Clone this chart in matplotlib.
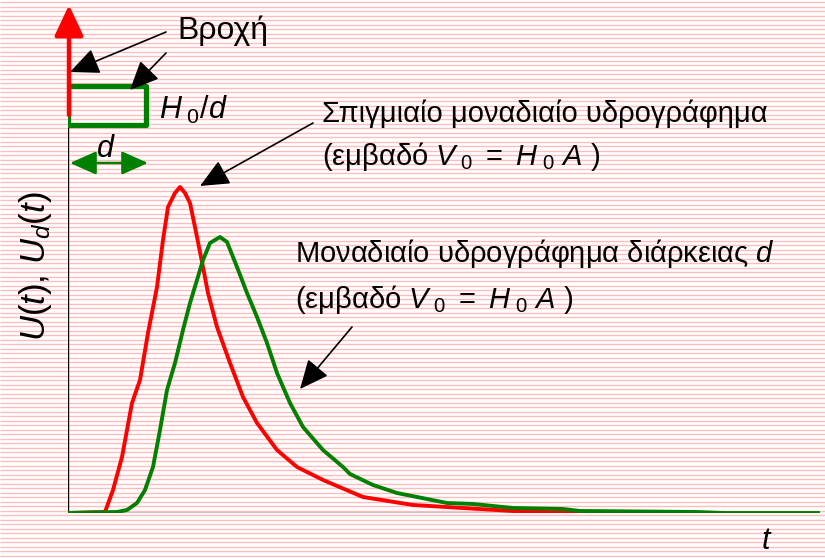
import numpy as np
import matplotlib
matplotlib.use('Agg')
import matplotlib.pyplot as plt
from matplotlib.patches import Rectangle, FancyArrowPatch

plt.rcParams['font.family'] = ['Liberation Sans', 'DejaVu Sans']
plt.rcParams['mathtext.fontset'] = 'custom'
plt.rcParams['mathtext.rm'] = 'Liberation Sans'
plt.rcParams['mathtext.it'] = 'Liberation Sans:italic'

# Στιγμιαίο μοναδιαίο υδρογράφημα U(t)
t_iuh = [0, 3.7, 4.5, 5.4, 6.4, 7.2, 8.0, 8.9, 9.5, 10.0, 10.7, 11.2, 11.7, 12.2,
         12.9, 13.5, 14.0, 14.9, 16.2, 17.5, 18.9, 20.9, 22.9, 25.5, 29.5, 34.5,
         39.5, 44.5, 47.9, 53.2, 62.2, 65.5]
u_iuh = [0, 0.01, 0.23, 0.56, 1.10, 1.33, 1.80, 2.26, 2.73, 3.06, 3.20, 3.26, 3.20, 3.10,
         2.76, 2.46, 2.20, 1.86, 1.50, 1.16, 0.90, 0.63, 0.46, 0.33, 0.16, 0.08,
         0.05, 0.02, 0.01, 0.0, 0.0, 0.0]

# Μοναδιαίο υδρογράφημα διάρκειας d, U_d(t)
t_uh = [0, 4.9, 5.9, 6.9, 7.7, 8.5, 9.2, 9.9, 10.7, 11.5, 12.2, 12.9, 13.5, 14.2,
        15.2, 15.9, 16.9, 17.9, 18.9, 19.9, 20.9, 22.2, 23.5, 25.5, 27.5, 28.2,
        30.5, 32.9, 37.9, 40.5, 44.5, 49.5, 51.2, 62.9, 65.5, 75.0]
u_uh = [0, 0.01, 0.03, 0.10, 0.23, 0.46, 0.83, 1.23, 1.50, 1.83, 2.10, 2.33, 2.53, 2.70,
        2.76, 2.71, 2.46, 2.20, 1.96, 1.70, 1.40, 1.10, 0.86, 0.63, 0.46, 0.39,
        0.28, 0.20, 0.10, 0.09, 0.05, 0.04, 0.02, 0.01, 0.0, 0.0]

# βροχή: παλμός διάρκειας d και στιγμιαία βροχή
d_dur = 7.8
rain_base = 3.88
rain_top = 4.27
impulse_base = 3.98
impulse_top = 5.08
d_arrow_level = 3.50

W, H = 825, 558
fig = plt.figure(figsize=(W / 100, H / 100), dpi=100)


def px(x, y):
    # pixel από πάνω-αριστερά -> figure fraction
    return x / W, 1 - y / H


# φόντο με ροζ γραμμές
bg = fig.add_axes([0, 0, 1, 1], zorder=-5)
bg.set_xlim(0, W)
bg.set_ylim(H, 0)
bg.hlines(np.arange(2, H, 4.5), 0, W, colors='#ffbdbd', lw=1.0)
bg.axis('off')

x0, y0 = 68, 513
ax = fig.add_axes([x0 / W, (H - y0) / H, (W - x0) / W, y0 / H])
ax.set_facecolor('none')
ax.set_xlim(0, (W - x0) / 10)
ax.set_ylim(0, y0 / 100)
ax.axis('off')

# άξονες
ax.axhline(0, xmin=0, xmax=750 / (W - x0), color='black', lw=1.0)
ax.vlines(0, 0, rain_base, color='black', lw=1.0)

# καμπύλες
ax.plot(t_iuh, u_iuh, color='#ff0000', lw=2.8, solid_joinstyle='round', zorder=3)
ax.plot(t_uh, u_uh, color='#008000', lw=2.8, solid_joinstyle='round', zorder=3)

# βροχή
ax.add_patch(Rectangle((0, rain_base), d_dur, rain_top - rain_base, fill=False,
                       edgecolor='#008000', lw=3.8, joinstyle='round', zorder=4))
ax.annotate('', xy=(0.1, impulse_top), xytext=(0.1, impulse_base),
            arrowprops=dict(arrowstyle='-|>,head_length=0.85,head_width=0.4',
                            mutation_scale=22, color='#ff0000', lw=3.2,
                            shrinkA=0, shrinkB=0), zorder=5)
ax.annotate('', xy=(0.2, d_arrow_level), xytext=(d_dur + 0.2, d_arrow_level),
            arrowprops=dict(arrowstyle='<|-|>,head_length=0.9,head_width=0.4',
                            mutation_scale=18, color='#008000', lw=1.8,
                            shrinkA=0, shrinkB=0))

black_arrow = dict(arrowstyle='-|>,head_length=1.0,head_width=0.45',
                   mutation_scale=18, color='black', lw=1.2, shrinkA=0, shrinkB=0)

# κείμενα
fs = 21
area = r'(εμβαδό $V_{\ 0}\ =\ H_{\ 0}\ A$ )'
fig.text(*px(177, 39), 'Βροχή', fontsize=23, va='baseline', ha='left')
fig.text(*px(159, 119), r'$H_{\ 0}/d$', fontsize=22, va='baseline', ha='left')
fig.text(*px(96, 157), r'$d$', fontsize=22, va='baseline', ha='left')
fig.text(*px(322, 122), 'Σπιγμιαίο μοναδιαίο υδρογράφημα', fontsize=fs,
         va='baseline', ha='left')
fig.text(*px(322, 165), area, fontsize=fs, va='baseline', ha='left')
fig.text(*px(295, 262), r'Μοναδιαίο υδρογράφημα διάρκειας $d$', fontsize=fs,
         va='baseline', ha='left')
fig.text(*px(295, 308), area, fontsize=fs, va='baseline', ha='left')
fig.text(*px(767, 549), r'$t$', fontsize=22, va='baseline', ha='center')
fig.text(*px(36, 266), r'$U(t)$, $U_d(t)$', fontsize=25, rotation=90,
         va='center', ha='center')

# βέλη
for start, tip in [((166, 32), (70, 72)), ((166, 53), (130, 90)),
                   ((313, 123), (200, 186)), ((352, 327), (300, 389))]:
    fig.add_artist(FancyArrowPatch(px(*start), px(*tip),
                                   transform=fig.transFigure, **black_arrow))

fig.savefig('out.png', dpi=100)
